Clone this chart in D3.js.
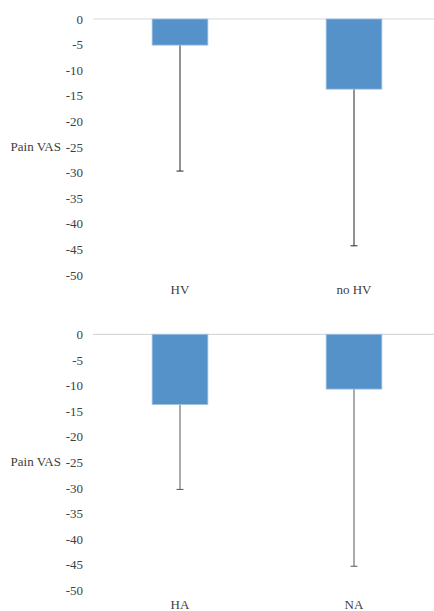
<!DOCTYPE html>
<html>
<head>
<meta charset="utf-8">
<script src="https://cdn.jsdelivr.net/npm/d3@7"></script>
<style>
  html, body { margin: 0; padding: 0; background: #fff; }
  svg { display: block; }
  svg text { font-family: "Liberation Serif", "Times New Roman", Times, serif !important; }
</style>
</head>
<body>
<svg id="chart" width="434" height="611"></svg>
<script>
// Change in pain VAS by group: mean (bar) and SD (downward whisker)
const groupsTop = ["HV", "no HV"];
const meansTop = [-5.1, -13.7];
const sdTop = [24.6, 30.6];

const groupsBottom = ["HA", "NA"];
const meansBottom = [-13.7, -10.7];
const sdBottom = [16.6, 34.6];

const yTicks = [0, -5, -10, -15, -20, -25, -30, -35, -40, -45, -50];
const yLabel = "Pain VAS";

const svg = d3.select("#chart");

function panel(cats, means, sds, top, whiskerColor) {
  const y = d3.scaleLinear().domain([0, -50]).range([top, top + 256]);
  const x = d3.scaleBand().domain(cats).range([93, 441]).paddingInner(0.68).paddingOuter(0.34);
  const g = svg.append("g");

  // value axis labels (plain hyphen for negatives)
  const yAxis = d3.axisLeft(y).tickValues(yTicks).tickSize(0).tickPadding(0).tickFormat(d => String(d));
  const ya = g.append("g").attr("transform", "translate(83,0)").call(yAxis);
  ya.attr("font-family", null);
  ya.select(".domain").remove();
  ya.selectAll("text")
    .attr("font-size", 13)
    .attr("fill", "#404040");

  g.append("text")
    .attr("x", 61).attr("y", y(-25))
    .attr("dy", "0.32em")
    .attr("text-anchor", "end")
    .attr("font-size", 13)
    .attr("fill", "#404040")
    .text(yLabel);

  // zero line
  g.append("line")
    .attr("x1", 93).attr("x2", 441)
    .attr("y1", y(0)).attr("y2", y(0))
    .attr("stroke", "#d9d9d9").attr("stroke-width", 1.2);

  // whiskers
  const cx = d => x(d) + x.bandwidth() / 2;
  cats.forEach((c, i) => {
    const yEnd = y(means[i] - sds[i]);
    g.append("line")
      .attr("x1", cx(c)).attr("x2", cx(c))
      .attr("y1", y(means[i])).attr("y2", yEnd)
      .attr("stroke", whiskerColor).attr("stroke-width", 1);
    g.append("line")
      .attr("x1", cx(c) - 3.5).attr("x2", cx(c) + 3.5)
      .attr("y1", yEnd).attr("y2", yEnd)
      .attr("stroke", whiskerColor).attr("stroke-width", 1);
  });

  // bars
  g.selectAll("rect.bar").data(cats).join("rect")
    .attr("class", "bar")
    .attr("x", d => x(d))
    .attr("width", x.bandwidth())
    .attr("y", y(0))
    .attr("height", (d, i) => y(means[i]) - y(0))
    .attr("fill", "#5592c9")
    .attr("stroke", "#9cc0e3").attr("stroke-width", 0.8);

  // category labels
  const xAxis = d3.axisBottom(x).tickSize(0).tickPadding(0);
  const xa = g.append("g").attr("transform", `translate(0,${top + 275})`).call(xAxis);
  xa.attr("font-family", null);
  xa.select(".domain").remove();
  xa.selectAll("text")
    .attr("font-size", 13)
    .attr("fill", "#404040")
    .attr("dy", "0");
}

panel(groupsTop, meansTop, sdTop, 19, "#262626");
panel(groupsBottom, meansBottom, sdBottom, 334.3, "#595959");
</script>
</body>
</html>
